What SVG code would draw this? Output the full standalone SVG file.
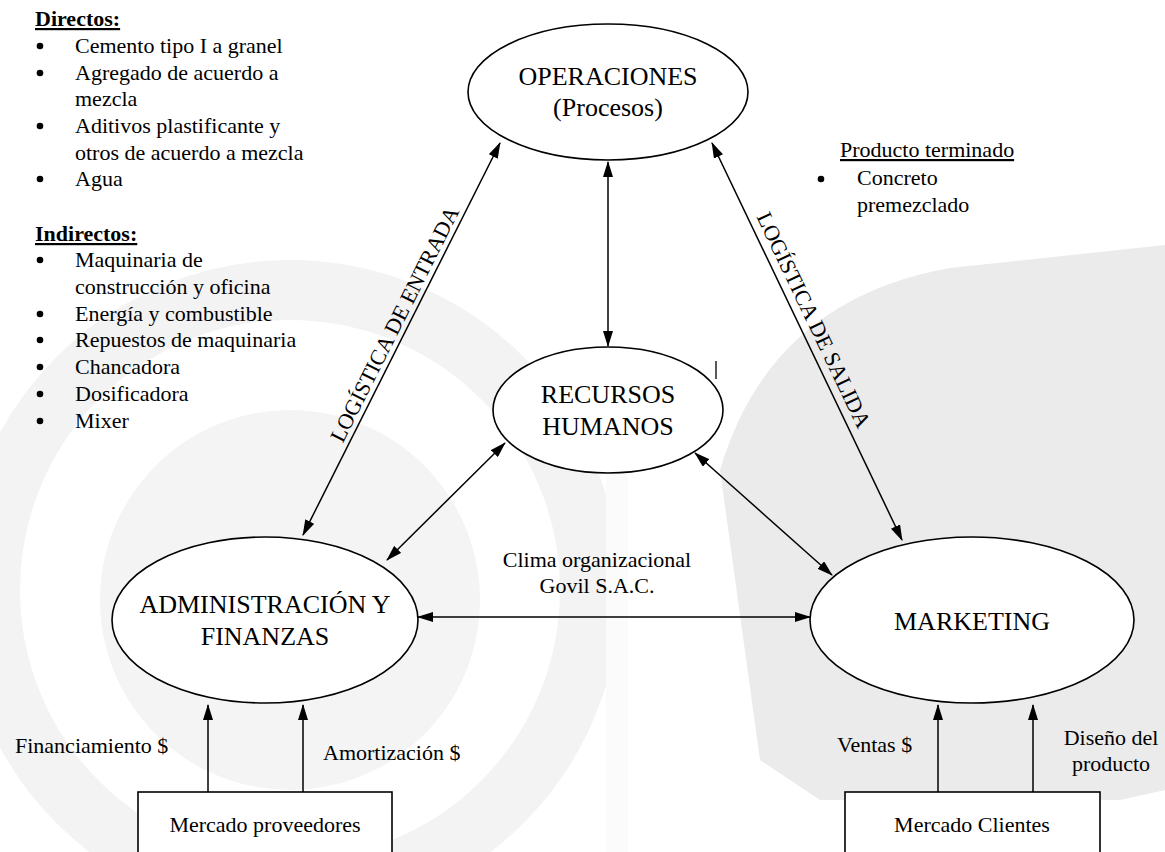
<svg xmlns="http://www.w3.org/2000/svg" width="1165" height="852" viewBox="0 0 1165 852" font-family="'Liberation Serif', Tinos, 'Times New Roman', 'DejaVu Serif', serif">
  <defs>
    <style>
      text { font-family: "Liberation Serif", Tinos, "Times New Roman", "DejaVu Serif", serif; fill: #000; }
      .node-label { font-size: 26px; text-anchor: middle; }
      .small { font-size: 22px; }
      .mid { text-anchor: middle; }
      .head { font-weight: bold; text-decoration: underline; }
      .uline { text-decoration: underline; }
      .shape { fill: #fff; stroke: #000; stroke-width: 1.6; }
      .link { stroke: #000; stroke-width: 1.5; fill: none; }
      .both { marker-start: url(#tip); marker-end: url(#tip); }
      .one { marker-end: url(#tip); }
      .dot { fill: #000; }
    </style>
    <marker id="tip" viewBox="0 0 16 10" markerUnits="userSpaceOnUse" markerWidth="16" markerHeight="10" refX="15" refY="5" orient="auto-start-reverse">
      <path d="M0,0 L16,5 L0,10 z" fill="#000"/>
    </marker>
  </defs>

  <rect width="1165" height="852" fill="#fff"/>

  <!-- faint background emblem -->
  <g id="background-emblem">
    <circle cx="290" cy="590" r="300" fill="none" stroke="#f3f3f3" stroke-width="60"/>
    <circle cx="290" cy="600" r="190" fill="#f4f4f4"/>
    <path d="M720,470 Q770,300 950,268 L1165,245 L1165,790 L1120,800 L820,800 L760,760 Z" fill="#ebebeb"/>
    <rect x="606" y="470" width="22" height="382" fill="#fbfbfb"/>
  </g>

  <!-- left: input lists -->
  <g id="inputs-list" class="small">
    <text x="35" y="26" class="head small">Directos:</text>
    <circle class="dot" cx="40" cy="46" r="3.3"/><text class="small" x="75" y="53">Cemento tipo I a granel</text>
    <circle class="dot" cx="40" cy="73" r="3.3"/><text class="small" x="75" y="80">Agregado de acuerdo a</text>
    <text class="small" x="75" y="106">mezcla</text>
    <circle class="dot" cx="40" cy="126" r="3.3"/><text class="small" x="75" y="133">Aditivos plastificante y</text>
    <text class="small" x="75" y="160">otros de acuerdo a mezcla</text>
    <circle class="dot" cx="40" cy="179" r="3.3"/><text class="small" x="75" y="186">Agua</text>
    <text x="35" y="241" class="head small">Indirectos:</text>
    <circle class="dot" cx="40" cy="260" r="3.3"/><text class="small" x="75" y="267">Maquinaria de</text>
    <text class="small" x="75" y="294">construcción y oficina</text>
    <circle class="dot" cx="40" cy="314" r="3.3"/><text class="small" x="75" y="321">Energía y combustible</text>
    <circle class="dot" cx="40" cy="340" r="3.3"/><text class="small" x="75" y="347">Repuestos de maquinaria</text>
    <circle class="dot" cx="40" cy="367" r="3.3"/><text class="small" x="75" y="374">Chancadora</text>
    <circle class="dot" cx="40" cy="394" r="3.3"/><text class="small" x="75" y="401">Dosificadora</text>
    <circle class="dot" cx="40" cy="421" r="3.3"/><text class="small" x="75" y="428">Mixer</text>
  </g>

  <!-- right: output list -->
  <g id="output-list">
    <text x="840" y="157" class="small uline">Producto terminado</text>
    <circle class="dot" cx="821" cy="179" r="3.3"/><text class="small" x="857" y="185">Concreto</text>
    <text class="small" x="857" y="212">premezclado</text>
  </g>

  <!-- connectors -->
  <g id="connectors">
    <line class="link both" x1="500" y1="143" x2="303" y2="535"/>
    <line class="link both" x1="608" y1="162" x2="608" y2="346"/>
    <line class="link both" x1="712" y1="143" x2="902" y2="540"/>
    <line class="link both" x1="505" y1="443" x2="387" y2="560"/>
    <line class="link both" x1="695" y1="453" x2="832" y2="575"/>
    <line class="link both" x1="418" y1="617" x2="810" y2="617"/>
    <line class="link one" x1="208" y1="792" x2="208" y2="705"/>
    <line class="link one" x1="303" y1="792" x2="303" y2="705"/>
    <line class="link one" x1="938" y1="792" x2="938" y2="705"/>
    <line class="link one" x1="1033" y1="792" x2="1033" y2="705"/>
    <line x1="716" y1="361" x2="716" y2="379" stroke="#000" stroke-width="1.3"/>

    <text class="small mid" transform="translate(405.6,329.8) rotate(-63.3)" x="0" y="-5">LOGÍSTICA DE ENTRADA</text>
    <text class="small mid" transform="translate(799.9,326.6) rotate(64.4)" x="0" y="-8">LOGÍSTICA DE SALIDA</text>
    <text class="small mid" x="597" y="567">Clima organizacional</text>
    <text class="small mid" x="597" y="593">Govil S.A.C.</text>
    <text class="small" x="15" y="753">Financiamiento $</text>
    <text class="small" x="323" y="760">Amortización $</text>
    <text class="small" x="837" y="752">Ventas $</text>
    <text class="small mid" x="1111" y="745">Diseño del</text>
    <text class="small mid" x="1111" y="771">producto</text>
  </g>

  <!-- nodes -->
  <g id="node-operaciones">
    <ellipse class="shape" cx="608" cy="92" rx="140" ry="68"/>
    <text class="node-label" x="608" y="85">OPERACIONES</text>
    <text class="node-label" x="608" y="116">(Procesos)</text>
  </g>

  <g id="node-recursos-humanos">
    <ellipse class="shape" cx="608" cy="410" rx="115" ry="63"/>
    <text class="node-label" x="608" y="403">RECURSOS</text>
    <text class="node-label" x="608" y="435">HUMANOS</text>
  </g>

  <g id="node-administracion">
    <ellipse class="shape" cx="265" cy="620" rx="153" ry="83"/>
    <text class="node-label" x="265" y="613">ADMINISTRACIÓN Y</text>
    <text class="node-label" x="265" y="645">FINANZAS</text>
  </g>

  <g id="node-marketing">
    <ellipse class="shape" cx="972" cy="620" rx="162" ry="83"/>
    <text class="node-label" x="972" y="630">MARKETING</text>
  </g>

  <g id="node-mercado-proveedores">
    <rect class="shape" x="138" y="792" width="254" height="80"/>
    <text class="small mid" x="265" y="832">Mercado proveedores</text>
  </g>

  <g id="node-mercado-clientes">
    <rect class="shape" x="845" y="792" width="255" height="80"/>
    <text class="small mid" x="972" y="832">Mercado Clientes</text>
  </g>
</svg>
